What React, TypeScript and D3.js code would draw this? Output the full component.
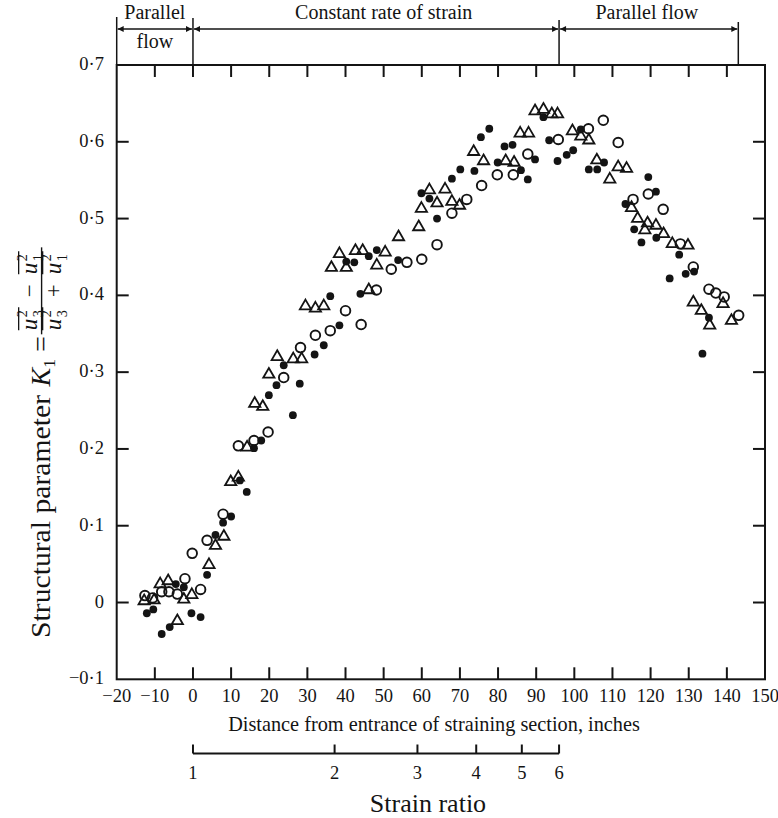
import React, { useEffect, useRef } from 'react';
import * as d3 from 'd3';

const W = 778;
const H = 818;

const xTicks = [-20, -10, 0, 10, 20, 30, 40, 50, 60, 70, 80, 90, 100, 110, 120, 130, 140, 150];
const yTicks = [-0.1, 0, 0.1, 0.2, 0.3, 0.4, 0.5, 0.6, 0.7];
const strainTicks = [1, 2, 3, 4, 5, 6];

const regionBounds = [-20, 0, 96, 143];
const regionLabelAt = [-10, 50, 119];
const regionLabels = ['Parallel', 'Constant rate of strain', 'Parallel flow'];

const filledCircles: [number, number][] = [
  [-12.1, -0.014], [-10.4, -0.009], [-8.2, -0.041], [-6.1, -0.032], [-4.5, 0.024], [-2.4, 0.020],
  [-0.4, -0.014], [2.0, -0.019], [3.7, 0.036], [5.9, 0.088], [7.9, 0.104], [10.0, 0.112],
  [12.3, 0.159], [14.1, 0.144], [16.0, 0.201], [17.9, 0.211], [19.9, 0.270], [21.9, 0.283],
  [23.8, 0.309], [26.2, 0.244], [28.0, 0.285], [31.9, 0.323], [34.3, 0.335], [36.0, 0.399],
  [38.4, 0.361], [40.2, 0.444], [42.3, 0.443], [43.9, 0.402], [46.1, 0.451], [48.2, 0.459],
  [53.8, 0.446], [59.9, 0.533], [62.0, 0.526], [64.0, 0.500], [67.9, 0.552], [70.1, 0.564],
  [73.8, 0.562], [75.5, 0.606], [77.7, 0.617], [79.9, 0.573], [81.7, 0.594], [83.8, 0.596],
  [86.0, 0.563], [87.8, 0.551], [89.7, 0.577], [91.9, 0.632], [93.4, 0.602], [95.6, 0.575],
  [98.0, 0.583], [99.7, 0.589], [101.7, 0.616], [103.8, 0.564], [106.0, 0.564], [107.8, 0.573],
  [113.4, 0.519], [115.7, 0.486], [117.6, 0.469], [119.4, 0.554], [121.4, 0.535], [121.5, 0.475],
  [125.0, 0.422], [127.5, 0.453], [129.2, 0.428], [131.4, 0.431], [133.6, 0.324], [135.3, 0.371],
];

const openCircles: [number, number][] = [
  [-12.6, 0.009], [-10.6, 0.006], [-8.2, 0.014], [-6.3, 0.014], [-4.1, 0.011], [-2.1, 0.031],
  [-0.2, 0.064], [2.0, 0.017], [3.7, 0.081], [7.9, 0.115], [11.9, 0.204], [16.0, 0.211],
  [19.7, 0.222], [23.8, 0.293], [28.2, 0.332], [32.1, 0.348], [36.0, 0.354], [40.0, 0.380],
  [44.1, 0.362], [48.1, 0.407], [52.0, 0.434], [56.1, 0.443], [60.0, 0.447], [64.0, 0.466],
  [67.9, 0.507], [71.8, 0.525], [75.7, 0.543], [79.8, 0.557], [84.0, 0.557], [87.8, 0.584],
  [95.8, 0.603], [103.7, 0.617], [107.6, 0.628], [111.5, 0.599], [115.4, 0.525], [119.4, 0.532],
  [123.3, 0.512], [127.8, 0.467], [131.2, 0.437], [135.3, 0.408], [137.1, 0.403], [139.3, 0.398],
  [143.1, 0.374],
];

const openTriangles: [number, number][] = [
  [-12.8, 0.002], [-10.2, 0.003], [-8.6, 0.024], [-6.5, 0.028], [-4.1, -0.024], [-2.4, 0.004],
  [-0.3, 0.010], [4.2, 0.049], [5.9, 0.074], [8.1, 0.086], [9.9, 0.157], [11.9, 0.163],
  [14.2, 0.202], [16.2, 0.259], [18.3, 0.255], [19.9, 0.297], [22.1, 0.320], [26.3, 0.317],
  [28.5, 0.317], [29.5, 0.386], [32.1, 0.383], [34.3, 0.386], [36.3, 0.436], [38.4, 0.454],
  [40.2, 0.436], [42.6, 0.458], [44.5, 0.458], [46.1, 0.407], [48.2, 0.439], [50.4, 0.456],
  [53.9, 0.476], [59.2, 0.489], [59.9, 0.513], [62.0, 0.537], [64.0, 0.520], [66.1, 0.538],
  [67.9, 0.522], [69.9, 0.517], [73.6, 0.587], [76.2, 0.575], [82.0, 0.575], [84.2, 0.573],
  [85.8, 0.611], [88.0, 0.611], [89.7, 0.640], [91.9, 0.642], [94.1, 0.636], [95.6, 0.636],
  [99.5, 0.614], [101.7, 0.607], [103.8, 0.602], [105.9, 0.576], [109.3, 0.551], [111.5, 0.567],
  [113.7, 0.565], [115.0, 0.514], [116.6, 0.500], [118.5, 0.485], [119.2, 0.494], [121.4, 0.491],
  [123.4, 0.480], [125.7, 0.467], [129.8, 0.465], [131.2, 0.391], [133.3, 0.380], [135.5, 0.361],
  [139.0, 0.389], [141.2, 0.367],
];

const FONT = "'Liberation Serif', 'Times New Roman', serif";
const INK = '#141414';

export default function App() {
  const ref = useRef<SVGSVGElement>(null);

  useEffect(() => {
    const svg = d3.select(ref.current);
    svg.selectAll('*').remove();

    const x = d3.scaleLinear().domain([-20, 150]).range([116.7, 765]);
    const y = d3.scaleLinear().domain([-0.1, 0.7]).range([679.3, 65]);
    const s = d3.scaleLog().domain([1, 6]).range([x(0), x(96)]);

    svg.append('rect').attr('width', W).attr('height', H).attr('fill', '#fff');

    const defs = svg.append('defs');
    defs.append('marker')
      .attr('id', 'arr')
      .attr('viewBox', '0 0 10 10')
      .attr('refX', 10).attr('refY', 5)
      .attr('markerWidth', 9).attr('markerHeight', 6)
      .attr('markerUnits', 'userSpaceOnUse')
      .attr('orient', 'auto-start-reverse')
      .append('path').attr('d', 'M0,0 L10,5 L0,10 Z').attr('fill', INK);

    // frame
    svg.append('rect')
      .attr('x', x(-20)).attr('y', y(0.7))
      .attr('width', x(150) - x(-20)).attr('height', y(-0.1) - y(0.7))
      .attr('fill', 'none').attr('stroke', INK).attr('stroke-width', 2);

    const tickLen = 12;
    const innerX = xTicks.filter(t => t > -20 && t < 150);
    const innerY = yTicks.filter(t => t > -0.1 && t < 0.7);
    const tg = svg.append('g').attr('stroke', INK).attr('stroke-width', 2);
    tg.selectAll('line.bt').data(innerX).join('line').attr('class', 'bt')
      .attr('x1', d => x(d)).attr('x2', d => x(d))
      .attr('y1', y(-0.1)).attr('y2', y(-0.1) - tickLen);
    tg.selectAll('line.tt').data(innerX).join('line').attr('class', 'tt')
      .attr('x1', d => x(d)).attr('x2', d => x(d))
      .attr('y1', y(0.7)).attr('y2', y(0.7) + tickLen);
    tg.selectAll('line.lt').data(innerY).join('line').attr('class', 'lt')
      .attr('y1', d => y(d)).attr('y2', d => y(d))
      .attr('x1', x(-20)).attr('x2', x(-20) + tickLen);
    tg.selectAll('line.rt').data(innerY).join('line').attr('class', 'rt')
      .attr('y1', d => y(d)).attr('y2', d => y(d))
      .attr('x1', x(150)).attr('x2', x(150) - tickLen);

    const fmtX = (t: number) => (t < 0 ? '\u2212' + Math.abs(t) : String(t));
    const fmtY = (t: number) => (Math.abs(t) < 1e-9 ? '0' : (t < 0 ? '\u2212' : '') + '0\u00b7' + Math.round(Math.abs(t) * 10));

    svg.append('g').selectAll('text').data(xTicks).join('text')
      .attr('x', d => x(d)).attr('y', 702)
      .attr('text-anchor', 'middle')
      .attr('font-family', FONT).attr('font-size', 18.5).attr('fill', INK)
      .text(fmtX);

    svg.append('g').selectAll('text').data(yTicks).join('text')
      .attr('x', 104).attr('y', d => y(d) + 5)
      .attr('text-anchor', 'end')
      .attr('font-family', FONT).attr('font-size', 18.5).attr('fill', INK)
      .text(fmtY);

    svg.append('text')
      .attr('x', 434).attr('y', 731)
      .attr('text-anchor', 'middle')
      .attr('font-family', FONT).attr('font-size', 20.3).attr('fill', INK)
      .text('Distance from entrance of straining section, inches');

    // strain ratio axis
    const sy = 753.5;
    svg.append('line')
      .attr('x1', s(1)).attr('x2', s(6)).attr('y1', sy).attr('y2', sy)
      .attr('stroke', INK).attr('stroke-width', 2);
    svg.append('g').selectAll('line').data(strainTicks).join('line')
      .attr('x1', d => s(d)).attr('x2', d => s(d))
      .attr('y1', sy).attr('y2', sy - 9)
      .attr('stroke', INK).attr('stroke-width', 2);
    svg.append('g').selectAll('text').data(strainTicks).join('text')
      .attr('x', d => s(d)).attr('y', 779)
      .attr('text-anchor', 'middle')
      .attr('font-family', FONT).attr('font-size', 18.5).attr('fill', INK)
      .text(d => String(d));
    svg.append('text')
      .attr('x', 428).attr('y', 812)
      .attr('text-anchor', 'middle')
      .attr('font-family', FONT).attr('font-size', 26).attr('fill', INK)
      .text('Strain ratio');

    // header regions
    const hg = svg.append('g');
    const vTops = [17, 18, 20, 22];
    regionBounds.forEach((b, i) => {
      hg.append('line')
        .attr('x1', x(b)).attr('x2', x(b)).attr('y1', vTops[i]).attr('y2', y(0.7))
        .attr('stroke', INK).attr('stroke-width', 1.5);
    });
    for (let i = 0; i < regionBounds.length - 1; i++) {
      hg.append('line')
        .attr('x1', x(regionBounds[i]) + 1).attr('x2', x(regionBounds[i + 1]) - 1)
        .attr('y1', 29).attr('y2', 29)
        .attr('stroke', INK).attr('stroke-width', 1.5)
        .attr('marker-start', 'url(#arr)').attr('marker-end', 'url(#arr)');
      hg.append('text')
        .attr('x', x(regionLabelAt[i])).attr('y', 19)
        .attr('text-anchor', 'middle')
        .attr('font-family', FONT).attr('font-size', 20).attr('fill', INK)
        .text(regionLabels[i]);
    }
    hg.append('text')
      .attr('x', x(regionLabelAt[0])).attr('y', 48)
      .attr('text-anchor', 'middle')
      .attr('font-family', FONT).attr('font-size', 20).attr('fill', INK)
      .text('flow');

    // y-axis label (rotated)
    const fs = 28;
    const baseX = 50;
    const startY = 638;
    const gl = svg.append('g').attr('transform', 'rotate(-90)')
      .attr('font-family', FONT).attr('fill', INK);
    const words = gl.append('text').attr('x', -startY).attr('y', baseX).attr('font-size', fs)
      .text('Structural parameter');
    const wordsLen = (words.node() as SVGTextElement).getComputedTextLength() * 1.06;
    words.attr('textLength', wordsLen).attr('lengthAdjust', 'spacingAndGlyphs');
    const main = gl.append('text').attr('x', -startY + wordsLen + fs * 0.3).attr('y', baseX).attr('font-size', fs);
    main.append('tspan').attr('font-style', 'italic').text('K');
    main.append('tspan').attr('font-size', fs * 0.62).attr('dy', 5).text('1');
    main.append('tspan').attr('dy', -5).text(' = ');
    const mainLen = wordsLen + fs * 0.3 + (main.node() as SVGTextElement).getComputedTextLength();

    const ff = 23;
    const fx0 = -startY + mainLen + 2;
    const barY = baseX - 0.3 * fs;
    const numBase = barY - 5;
    const denBase = barY + 19;

    const drawTerm = (x0: number, base: number, sub: string) => {
      const u = gl.append('text').attr('x', x0).attr('y', base)
        .attr('font-size', ff).attr('font-style', 'italic').text('u');
      const uw = (u.node() as SVGTextElement).getComputedTextLength();
      gl.append('text').attr('x', x0 + uw + 1.5).attr('y', base - 0.4 * ff)
        .attr('font-size', ff * 0.62).text('2');
      gl.append('text').attr('x', x0 + uw + 1.5).attr('y', base + 0.26 * ff)
        .attr('font-size', ff * 0.62).text(sub);
      const tw = uw + ff * 0.5;
      gl.append('line')
        .attr('x1', x0).attr('x2', x0 + tw)
        .attr('y1', base - 0.78 * ff).attr('y2', base - 0.78 * ff)
        .attr('stroke', INK).attr('stroke-width', 1.3);
      return tw;
    };
    const drawRow = (base: number, op: string) => {
      let cx = fx0 + 4;
      cx += drawTerm(cx, base, '3');
      const o = gl.append('text').attr('x', cx + 10).attr('y', base).attr('font-size', ff).text(op);
      cx += 10 + (o.node() as SVGTextElement).getComputedTextLength() + 10;
      cx += drawTerm(cx, base, '1');
      return cx;
    };
    const endN = drawRow(numBase, '\u2212');
    const endD = drawRow(denBase, '+');
    gl.append('line')
      .attr('x1', fx0).attr('x2', Math.max(endN, endD) + 4)
      .attr('y1', barY).attr('y2', barY)
      .attr('stroke', INK).attr('stroke-width', 1.4);

    // data
    const pg = svg.append('g');
    pg.selectAll('circle.f').data(filledCircles).join('circle').attr('class', 'f')
      .attr('cx', d => x(d[0])).attr('cy', d => y(d[1])).attr('r', 3.9)
      .attr('fill', INK);
    pg.selectAll('circle.o').data(openCircles).join('circle').attr('class', 'o')
      .attr('cx', d => x(d[0])).attr('cy', d => y(d[1])).attr('r', 4.8)
      .attr('fill', 'none').attr('stroke', INK).attr('stroke-width', 1.9);
    const tri = d3.symbol().type(d3.symbolTriangle).size(55);
    pg.selectAll('path.t').data(openTriangles).join('path').attr('class', 't')
      .attr('transform', d => `translate(${x(d[0])},${y(d[1])})`)
      .attr('d', tri() as string)
      .attr('fill', 'none').attr('stroke', INK).attr('stroke-width', 1.8);
  }, []);

  return (
    <svg
      ref={ref}
      width={W}
      height={H}
      style={{ position: 'absolute', left: 0, top: 0, background: '#fff' }}
    />
  );
}
